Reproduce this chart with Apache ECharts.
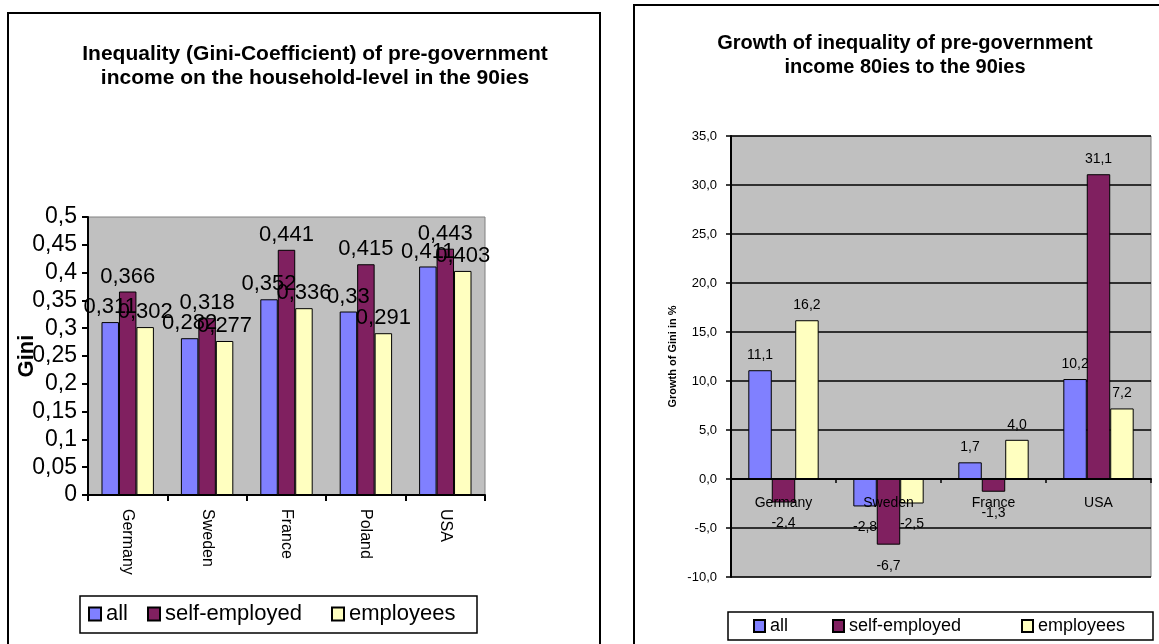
<!DOCTYPE html>
<html>
<head>
<meta charset="utf-8">
<script src="https://cdn.jsdelivr.net/npm/echarts@6/dist/echarts.min.js"></script>
<style>
  html, body { margin: 0; padding: 0; background: #fff; }
  #chart { width: 1159px; height: 644px; }
</style>
</head>
<body>
<div id="chart"></div>
<script>
// left chart: Gini in the 90ies
const giniCountries = ['Germany', 'Sweden', 'France', 'Poland', 'USA'];
const giniAll = [0.311, 0.282, 0.352, 0.33, 0.411];
const giniSelf = [0.366, 0.318, 0.441, 0.415, 0.443];
const giniEmp = [0.302, 0.277, 0.336, 0.291, 0.403];
const giniTicks = [0, 0.5, 0.05]; // min, max, step

// right chart: growth 80ies -> 90ies
const growthCountries = ['Germany', 'Sweden', 'France', 'USA'];
const growthAll = [11.1, -2.8, 1.7, 10.2];
const growthSelf = [-2.4, -6.7, -1.3, 31.1];
const growthEmp = [16.2, -2.5, 4.0, 7.2];
const growthTicks = [-10, 35, 5];

const seriesNames = ['all', 'self-employed', 'employees'];
const colors = ['#8080ff', '#802060', '#ffffc0'];

const chart = echarts.init(document.getElementById('chart'));
const FONT = 'Liberation Sans, Arial, sans-serif';

const comma = (s) => String(s).replace('.', ',');

// right grid height, used to lift the category axis onto the zero line
const rightH = 441;
const zeroLift = (0 - growthTicks[0]) / (growthTicks[1] - growthTicks[0]) * rightH;

const leftSeries = [giniAll, giniSelf, giniEmp].map((d, i) => ({
  name: seriesNames[i],
  type: 'bar',
  xAxisIndex: 0,
  yAxisIndex: 0,
  data: d,
  barGap: '0%',
  barCategoryGap: '34%',
  itemStyle: { color: colors[i], borderColor: '#000', borderWidth: 1 },
  label: {
    show: true,
    position: 'top',
    distance: 4,
    fontSize: 22,
    fontFamily: FONT,
    color: '#000',
    formatter: (p) => comma(p.value)
  }
}));

const rightSeries = [growthAll, growthSelf, growthEmp].map((d, i) => ({
  name: seriesNames[i],
  type: 'bar',
  xAxisIndex: 1,
  yAxisIndex: 1,
  data: d.map(v => ({
    value: v,
    label: v < 0 ? { position: 'bottom', distance: 14 } : { position: 'top' }
  })),
  barGap: '0%',
  barCategoryGap: '33%',
  itemStyle: { color: colors[i], borderColor: '#000', borderWidth: 1 },
  label: {
    show: true,
    distance: 8,
    fontSize: 14,
    fontFamily: FONT,
    color: '#000',
    formatter: (p) => comma(p.value.toFixed(1))
  }
}));

const option = {
  animation: false,
  textStyle: { fontFamily: FONT },
  title: [
    {
      text: 'Inequality (Gini-Coefficient) of pre-government\nincome on the household-level in the 90ies',
      left: 310, top: 37, textAlign: 'center',
      textStyle: { fontSize: 21, fontWeight: 'bold', lineHeight: 24, color: '#000', fontFamily: FONT }
    },
    {
      text: 'Growth of inequality of pre-government\nincome 80ies to the 90ies',
      left: 900, top: 26, textAlign: 'center',
      textStyle: { fontSize: 20, fontWeight: 'bold', lineHeight: 24, color: '#000', fontFamily: FONT }
    }
  ],
  legend: [
    { data: ['all'], left: 88, top: 603, padding: 0, itemWidth: 12, itemHeight: 13, icon: 'rect',
      textStyle: { fontSize: 22, color: '#000', fontFamily: FONT } },
    { data: ['self-employed'], left: 147, top: 603, padding: 0, itemWidth: 12, itemHeight: 13, icon: 'rect',
      textStyle: { fontSize: 22, color: '#000', fontFamily: FONT } },
    { data: ['employees'], left: 331, top: 603, padding: 0, itemWidth: 12, itemHeight: 13, icon: 'rect',
      textStyle: { fontSize: 22, color: '#000', fontFamily: FONT } },
    { data: ['all'], left: 753, top: 617, padding: 0, itemWidth: 11, itemHeight: 12, icon: 'rect',
      textStyle: { fontSize: 18, color: '#000', fontFamily: FONT } },
    { data: ['self-employed'], left: 832, top: 617, padding: 0, itemWidth: 11, itemHeight: 12, icon: 'rect',
      textStyle: { fontSize: 18, color: '#000', fontFamily: FONT } },
    { data: ['employees'], left: 1021, top: 617, padding: 0, itemWidth: 11, itemHeight: 12, icon: 'rect',
      textStyle: { fontSize: 18, color: '#000', fontFamily: FONT } }
  ],
  graphic: [
    { type: 'rect', shape: { x: 8, y: 13, width: 592, height: 700 }, style: { fill: 'none', stroke: '#000', lineWidth: 2 } },
    { type: 'rect', shape: { x: 634, y: 5, width: 600, height: 700 }, style: { fill: 'none', stroke: '#000', lineWidth: 2 } },
    { type: 'rect', shape: { x: 80, y: 596, width: 397, height: 37 }, style: { fill: 'none', stroke: '#000', lineWidth: 1.5 } },
    { type: 'rect', shape: { x: 728, y: 612, width: 425, height: 28 }, style: { fill: 'none', stroke: '#000', lineWidth: 1.5 } }
  ],
  grid: [
    { left: 88, top: 217, width: 397, height: 278, show: true, backgroundColor: '#c0c0c0', borderColor: '#808080', borderWidth: 1 },
    { left: 731, top: 136, width: 420, height: rightH, show: true, backgroundColor: '#c0c0c0', borderColor: '#808080', borderWidth: 1 }
  ],
  xAxis: [
    {
      type: 'category', gridIndex: 0, data: giniCountries,
      axisLine: { lineStyle: { color: '#000', width: 2 } },
      axisTick: { show: true, length: 6, lineStyle: { color: '#000', width: 2 } },
      axisLabel: { rotate: -90, margin: 14, fontSize: 16, color: '#000', fontFamily: FONT }
    },
    {
      type: 'category', gridIndex: 1, data: growthCountries, z: 5,
      offset: -zeroLift,
      axisLine: { onZero: false, lineStyle: { color: '#000', width: 2 } },
      axisTick: { show: true, length: 4, lineStyle: { color: '#000', width: 1.5 } },
      axisLabel: { margin: 17, fontSize: 14, color: '#000', fontFamily: FONT }
    }
  ],
  yAxis: [
    {
      type: 'value', gridIndex: 0,
      min: giniTicks[0], max: giniTicks[1], interval: giniTicks[2],
      name: 'Gini', nameLocation: 'middle', nameGap: 50, nameMoveOverlap: false,
      nameTextStyle: { fontSize: 22, fontWeight: 'bold', color: '#000', fontFamily: FONT },
      axisLine: { show: true, lineStyle: { color: '#000', width: 2 } },
      axisTick: { show: true, length: 6, lineStyle: { color: '#000', width: 2 } },
      splitLine: { show: false },
      axisLabel: { margin: 11, fontSize: 23, color: '#000', fontFamily: FONT,
        formatter: (v) => comma(+v.toFixed(2)) }
    },
    {
      type: 'value', gridIndex: 1,
      min: growthTicks[0], max: growthTicks[1], interval: growthTicks[2],
      name: 'Growth of Gini in %', nameLocation: 'middle', nameGap: 53, nameMoveOverlap: false,
      nameTextStyle: { fontSize: 11, fontWeight: 'bold', color: '#000', fontFamily: FONT },
      axisLine: { show: true, lineStyle: { color: '#000', width: 2 } },
      axisTick: { show: true, length: 5, lineStyle: { color: '#000', width: 1.5 } },
      splitLine: { show: true, lineStyle: { color: '#000', width: 1.5 } },
      axisLabel: { margin: 14, fontSize: 13, color: '#000', fontFamily: FONT,
        formatter: (v) => comma(v.toFixed(1)) }
    }
  ],
  series: leftSeries.concat(rightSeries)
};

chart.setOption(option);
</script>
</body>
</html>
